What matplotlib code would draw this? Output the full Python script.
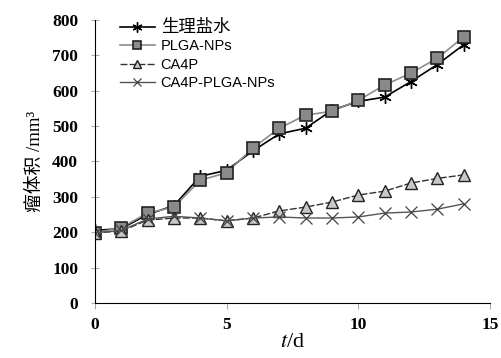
import numpy as np
import matplotlib.pyplot as plt

plt.rcParams['font.family'] = ['Liberation Sans', 'Noto Sans CJK SC']
plt.rcParams['mathtext.fontset'] = 'stix'

t = np.arange(0, 15)
saline = [205, 210, 250, 275, 358, 375, 430, 478, 494, 545, 570, 582, 626, 674, 730]
plga = [198, 213, 254, 271, 347, 368, 438, 494, 531, 542, 573, 616, 650, 692, 752]
ca4p = [198, 203, 234, 240, 240, 232, 240, 260, 271, 285, 305, 316, 339, 352, 362]
ca4p_plga = [198, 205, 237, 245, 240, 232, 240, 243, 240, 240, 243, 254, 257, 265, 280]

fig = plt.figure(figsize=(5.02, 3.58), dpi=100)
ax = fig.add_axes([0.189, 0.154, 0.787, 0.79])

ax.plot(t, saline, color="black", lw=1.2, marker=(6, 2, 0), ms=9, mec="black", mew=1.0,
        label="生理盐水")
ax.plot(t, plga, color="#8c8c8c", lw=1.2, marker="s", ms=8, mfc="#8a8a8a", mec="#222222",
        mew=1.2, label="PLGA-NPs")
ax.plot(t, ca4p, color="#333333", lw=1.0, ls=(0, (5, 1.5)), marker="^", ms=8, mfc="#c8c8c8",
        mec="#222222", mew=1.0, label="CA4P")
ax.plot(t, ca4p_plga, color="#555555", lw=1.0, marker="x", ms=8, mec="#444444", mew=0.9,
        label="CA4P-PLGA-NPs")

ax.set_xlim(0, 15)
ax.set_ylim(0, 800)
ax.set_xticks([0, 5, 10, 15])
ax.set_yticks(range(0, 801, 100))
ax.spines['top'].set_visible(False)
ax.spines['right'].set_visible(False)
ax.tick_params(axis='y', direction='inout', length=6, width=0.6, color="#999999", pad=9)
ax.tick_params(axis='x', direction='out', length=4, width=0.6, color="#999999", pad=6)
for lab in ax.get_xticklabels() + ax.get_yticklabels():
    lab.set_family("Liberation Serif")
    lab.set_fontsize(12.5)
    lab.set_fontweight("semibold")

ax.set_xlabel("$t$/d", fontsize=16, family="Liberation Serif", labelpad=0)
ax.set_ylabel("瘤体积 /mm³", fontsize=13.5, family=["Liberation Serif", "Noto Sans CJK SC"],
              labelpad=6)

leg = ax.legend(loc="upper left", bbox_to_anchor=(0.03, 1.05), frameon=False, fontsize=10.5,
                handlelength=2.4, labelspacing=0.3, handletextpad=0.4, markerscale=0.8)
leg.get_texts()[0].set_fontsize(12.5)

fig.savefig("out.png", dpi=100)
